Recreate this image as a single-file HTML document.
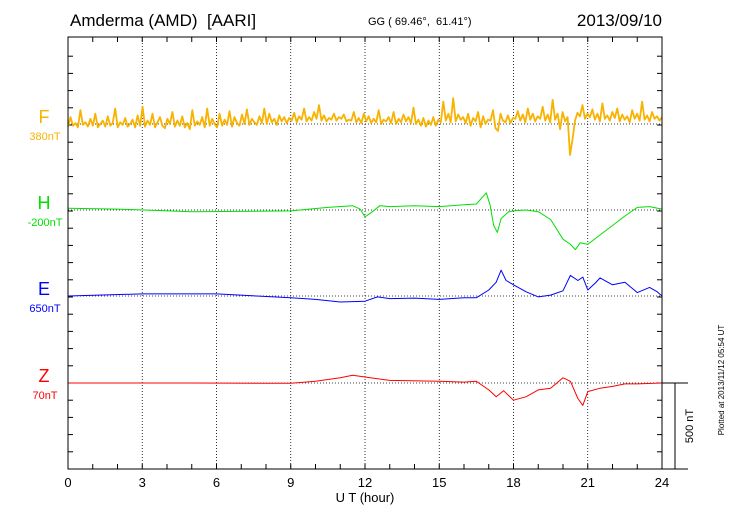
<!DOCTYPE html>
<html><head><meta charset="utf-8"><style>
body{margin:0;background:#fff;}
svg{display:block;font-family:"Liberation Sans",sans-serif;}
</style></head><body>
<svg id="chart" width="730" height="520" viewBox="0 0 730 520" xmlns="http://www.w3.org/2000/svg">
<text x="70" y="26" font-size="17">Amderma (AMD)&#160; [AARI]</text>
<text x="368" y="25" font-size="11">GG ( 69.46°,&#160; 61.41°)</text>
<text x="662" y="26" font-size="17" text-anchor="end">2013/09/10</text>
<g id="grid"></g>
<g id="series"></g>
<rect x="68" y="37" width="594" height="432" fill="none" stroke="#000" stroke-width="1"/>
<line x1="662" y1="383" x2="688" y2="383" stroke="#000"/>
<line x1="675" y1="383" x2="675" y2="469" stroke="#000"/>
<line x1="662" y1="469" x2="688" y2="469" stroke="#000"/>
<text transform="translate(693,426) rotate(-90)" font-size="11" text-anchor="middle">500 nT</text>
<text transform="translate(724,380) rotate(-90)" font-size="8" text-anchor="middle">Plotted at 2013/11/12 05:54 UT</text>
<text x="365" y="502" font-size="13" text-anchor="middle">U T (hour)</text>
<g id="labels"></g>
</svg>
<script>
const hourTicks=[0,3,6,9,12,15,18,21,24];
const seriesNames=["F","H","E","Z"];
const seriesBase=["380nT","-200nT","650nT","70nT"];
const seriesColors=["#f8b200","#00e000","#0000ff","#ff0000"];
const baselinesPx=[124,210,296,383];
const fValues=[-15,40,-10,5,-20,80,-5,10,-15,30,-10,60,-20,0,20,-15,45,-10,5,90,-20,10,-5,35,-15,0,25,-20,50,-10,
100,-15,20,-5,60,-20,10,40,-10,-25,30,0,70,-15,20,-10,45,-20,5,-30,80,-10,15,-5,40,-20,90,-10,30,0,
-20,60,-10,25,-5,75,-15,40,5,-10,55,0,85,-5,30,10,-5,45,5,90,0,60,10,30,-5,50,15,40,5,35,
20,65,10,45,25,90,15,40,20,70,30,110,20,50,15,35,25,60,20,40,30,55,15,25,20,70,10,35,5,60,
15,45,5,30,10,80,0,25,15,40,5,70,0,30,10,55,15,40,5,95,0,25,-10,35,-15,20,-5,40,-10,25,
10,130,20,60,10,150,15,55,25,40,5,60,-10,35,15,70,-20,45,0,25,20,80,-25,-40,60,20,10,50,5,35,
30,75,20,55,10,90,25,60,15,45,30,100,20,55,10,140,25,60,-30,70,15,40,-180,-90,20,65,45,110,30,60,
40,85,25,60,15,120,30,50,20,70,35,90,15,55,25,45,10,80,30,60,20,130,25,50,15,70,30,45,20,40];
const hTimes=[0,2,5,9,10.5,11.5,11.8,12,12.3,12.6,13,14,15,16,16.5,16.9,17.05,17.2,17.35,17.5,17.8,18,18.5,19,19.5,20,20.3,20.5,20.7,21,21.5,22,22.5,23,23.5,24];
const hValues=[10,5,-10,-5,15,25,5,-40,-10,25,20,25,20,30,35,100,30,-90,-130,-50,-10,-5,0,-10,-55,-170,-200,-230,-190,-200,-145,-90,-35,15,20,5];
const eTimes=[0,3,6,9,10,11,12,12.5,13,14,15,16,16.5,17,17.3,17.5,17.7,18,18.5,19,19.5,20,20.3,20.6,20.8,21,21.3,21.5,22,22.5,23,23.5,23.8,24];
const eValues=[0,12,12,-10,-20,-35,-30,-5,-15,-12,-20,-10,-10,35,80,150,90,65,25,-5,5,30,120,90,110,35,75,105,65,80,20,50,25,0];
const zTimes=[0,5,9,10,11,11.5,12,13,15,16,16.5,17,17.3,17.6,18,18.5,19,19.5,20,20.3,20.6,20.8,21,21.5,22,22.5,23,24];
const zValues=[0,0,-2,10,30,45,35,15,10,5,10,-40,-80,-45,-100,-80,-40,-30,30,10,-90,-130,-50,-30,-20,-5,-5,0];

const NS="http://www.w3.org/2000/svg";
const x0=68,x1=662,yTop=37,yBot=469;
const pxPerNT=86/500;
function xScale(h){return x0+(x1-x0)*h/24;}
function yScale(v,i){return baselinesPx[i]-v*pxPerNT;}
function mk(tag,attrs,parent){const e=document.createElementNS(NS,tag);for(const k in attrs)e.setAttribute(k,attrs[k]);parent.appendChild(e);return e;}
const grid=document.getElementById('grid');
hourTicks.forEach(h=>{
  if(h>0&&h<24){const l=mk('line',{x1:xScale(h),x2:xScale(h),y1:yTop,y2:yBot,stroke:'#000','stroke-dasharray':'1,2','stroke-width':0.8},grid);
  
  }
  const t=mk('text',{x:xScale(h),y:487,'font-size':13,'text-anchor':'middle'},grid);t.textContent=h;
  
  
});
for(let h=1;h<24;h++){
  const len=5;
  mk('line',{x1:xScale(h),x2:xScale(h),y1:yTop,y2:yTop+len,stroke:'#000'},grid);
  mk('line',{x1:xScale(h),x2:xScale(h),y1:yBot,y2:yBot-len,stroke:'#000'},grid);
}
for(let k=1;k<25;k++){
  const y=yBot-k*100*pxPerNT; if(y<=yTop)break;
  mk('line',{x1:x0,x2:x0+5,y1:y,y2:y,stroke:'#000'},grid);
  mk('line',{x1:x1,x2:x1-5,y1:y,y2:y,stroke:'#000'},grid);
}
baselinesPx.forEach(b=>{
  const l=mk('line',{x1:x0,x2:x1,y1:b,y2:b,stroke:'#000','stroke-dasharray':'1,2','stroke-width':0.8},grid);
  
  
});
const sg=document.getElementById('series');
function drawSeries(times,vals,i,w){
  const pts=times.map((t,j)=>xScale(t).toFixed(1)+','+yScale(vals[j],i).toFixed(1)).join(' ');
  const p=mk('polyline',{points:pts,fill:'none',stroke:seriesColors[i],'stroke-width':w,'stroke-linejoin':'round'},sg);
  
  
}
const fTimes=fValues.map((v,j)=>j*24/(fValues.length-1));
drawSeries(fTimes,fValues,0,1.8);
drawSeries(hTimes,hValues,1,1);
drawSeries(eTimes,eValues,2,1);
drawSeries(zTimes,zValues,3,1);
const lg=document.getElementById('labels');
seriesNames.forEach((n,i)=>{
  const t=mk('text',{x:44,y:baselinesPx[i]-1,'font-size':18,fill:seriesColors[i],'text-anchor':'middle'},lg);t.textContent=n;
  
  
  const s=mk('text',{x:45,y:baselinesPx[i]+16,'font-size':11,fill:seriesColors[i],'text-anchor':'middle'},lg);s.textContent=seriesBase[i];
  
  
});
</script>
</body></html>
